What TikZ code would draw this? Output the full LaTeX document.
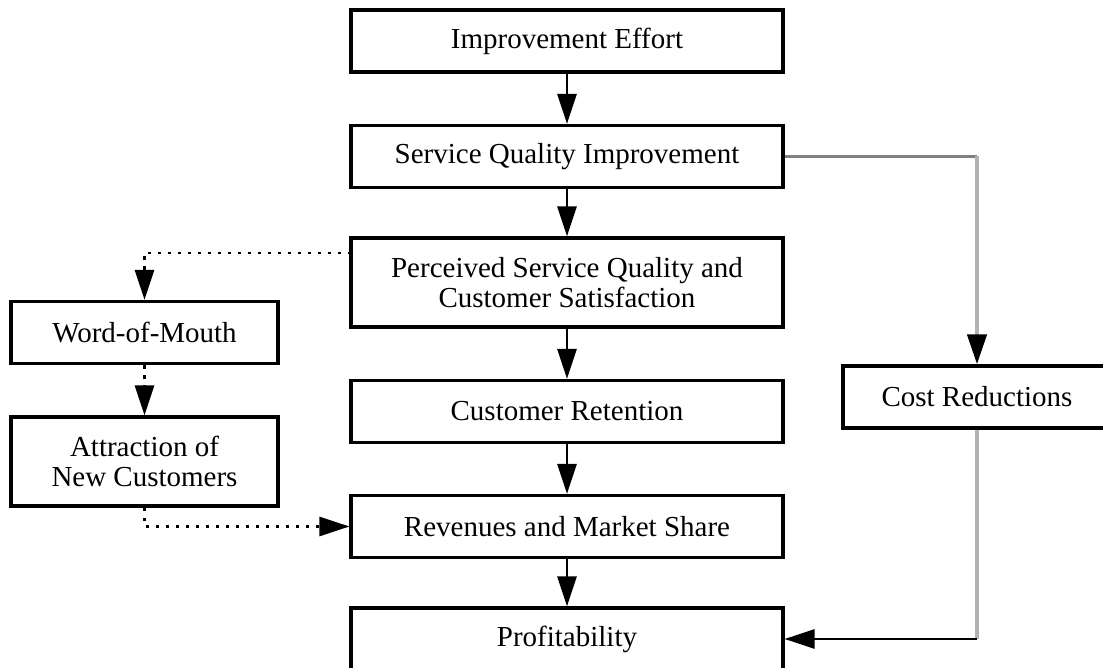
\documentclass[tikz,border=0pt]{standalone}
\usepackage{fontspec}
\setmainfont{Liberation Serif}
\usetikzlibrary{arrows.meta}

\tikzset{
	box/.style={draw, line width=1.8pt, align=center, inner sep=0pt,
		font=\fontsize{16.5}{17}\selectfont},
	midbox/.style={box, minimum width=8.64cm, minimum height=1.24cm},
	sidebox/.style={box, minimum width=5.34cm, minimum height=1.24cm},
	flow/.style={line width=1.5pt, -{Triangle[length=0.6cm, width=0.38cm, color=black]}},
	hint/.style={flow, dash pattern=on 0.07cm off 0.13cm},
}

\begin{document}
\begin{tikzpicture}[x=0.02cm, y=-0.02cm]
	\clip (0,0) rectangle (1103,668);
	\fill[white] (0,0) rectangle (1103,668);

	% main chain
	\node[midbox] (effort) at (567,41) {Improvement Effort};
	\node[midbox] (sqi) at (567,156.5) {Service Quality Improvement};
	\node[midbox, minimum height=1.78cm] (psq) at (567,282.5)
		{Perceived Service Quality and\\Customer Satisfaction};
	\node[midbox] (ret) at (567,411.5) {Customer Retention};
	\node[midbox] (rev) at (567,526.5) {Revenues and Market Share};
	\node[midbox] (profit) at (567,639) {Profitability};

	% left and right branches
	\node[sidebox] (wom) at (144.5,332.5) {Word-of-Mouth};
	\node[sidebox, minimum height=1.78cm] (attr) at (144.5,461.5)
		{Attraction of\\New Customers};
	\node[sidebox, minimum width=5.36cm] (cost) at (977,397) {Cost Reductions};

	\draw[flow] (effort) -- (sqi);
	\draw[flow] (sqi) -- (psq);
	\draw[flow] (psq) -- (ret);
	\draw[flow] (ret) -- (rev);
	\draw[flow] (rev) -- (profit);

	% word of mouth loop (dotted)
	\coordinate (wstart) at (351,253);
	\draw[hint] (wstart) -| (wom.north);
	\draw[hint] (wom) -- (attr);
	\draw[hint] (attr.south) |- (rev.west);

	% cost side
	\coordinate (cturn) at (977,639);
	\coordinate (cbend) at (977,156.5);
	\draw[line width=1.2pt, gray] (sqi.east) -- (cbend);
	\draw[flow, line width=2.4pt, gray!60] (cbend) -- (cost.north);
	\draw[line width=2.4pt, gray!60] (cost.south) -- (cturn);
	\draw[flow] (cturn) -- (profit.east);

\end{tikzpicture}
\end{document}
